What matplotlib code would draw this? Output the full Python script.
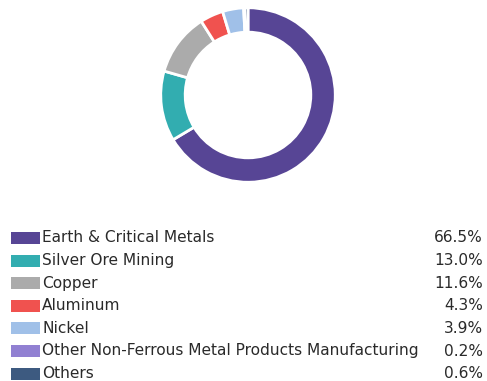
import matplotlib
matplotlib.use("Agg")
import matplotlib.pyplot as plt
from matplotlib.patches import Rectangle

labels = [
    "Earth & Critical Metals",
    "Silver Ore Mining",
    "Copper",
    "Aluminum",
    "Nickel",
    "Other Non-Ferrous Metal Products Manufacturing",
    "Others",
]
shares = [66.5, 13.0, 11.6, 4.3, 3.9, 0.2, 0.6]
colors = ["#574595", "#32adb0", "#ababab", "#f0524f", "#a0c0e8", "#9180d2", "#3d5a80"]

W, H = 487, 381
fig = plt.figure(figsize=(W / 100, H / 100), dpi=100)

# donut, centre and radius in pixels
cx, cy, r = 248, 95, 89
ax = fig.add_axes([(cx - r) / W, 1 - (cy + r) / H, 2 * r / W, 2 * r / H])
ax.pie(shares, colors=colors, startangle=90, counterclock=False, radius=1.0,
       wedgeprops=dict(width=0.28, edgecolor="white", linewidth=2))
ax.set_xlim(-1.02, 1.02)
ax.set_ylim(-1.02, 1.02)
ax.set_aspect("equal")
ax.axis("off")

# legend table
y0, dy = 238, 22.6
for i, (lab, val, col) in enumerate(zip(labels, shares, colors)):
    y = y0 + i * dy
    fig.patches.append(Rectangle((11 / W, 1 - (y + 6) / H), 29 / W, 12 / H,
                                 transform=fig.transFigure, facecolor=col,
                                 edgecolor="none"))
    fig.text(42 / W, 1 - y / H, lab, fontsize=11.05, color="#2a2a2a",
             va="center", ha="left")
    fig.text(483 / W, 1 - y / H, f"{val:.1f}%", fontsize=11.05, color="#2a2a2a",
             va="center", ha="right")

fig.savefig("out.png", dpi=100)
